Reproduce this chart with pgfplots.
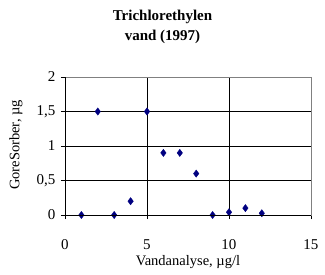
\documentclass[border=0pt]{standalone}
\usepackage{fontspec}
\setmainfont{Liberation Serif}
\usepackage{pgfplots}
\pgfplotsset{compat=1.18}
\definecolor{navy}{RGB}{0,0,128}
\definecolor{frame}{RGB}{128,128,128}
\begin{document}
\begin{tikzpicture}[x=1pt,y=1pt]
\useasboundingbox (-65,-59) rectangle (260,215);
\begin{axis}[
  at={(0,0)}, anchor=origin,
  scale only axis,
  width=246pt, height=138pt,
  xmin=0, xmax=15, ymin=0, ymax=2,
  xtick={0,5,10,15},
  ytick={0,0.5,1,1.5,2},
  yticklabels={0,{0,5},1,{1,5},2},
  /pgf/number format/assume math mode=true,
  tick label style={font=\fontsize{15}{17}\selectfont},
  xticklabel style={anchor=base, yshift=-30pt},
  yticklabel style={xshift=-2pt},
  grid=major,
  major grid style={black, line width=0.8pt},
  axis line style={frame, line width=0.8pt},
  tick style={black, line width=0.8pt},
  tick align=outside,
  major tick length=4pt,
  xtick pos=bottom, ytick pos=left,
  clip=false,
  xlabel={Vandanalyse, µg/l},
  ylabel={GoreSorber, µg},
  label style={font=\fontsize{14.5}{17}\selectfont},
  xlabel style={at={(axis description cs:0.5,0)}, anchor=base, yshift=-50pt},
  ylabel style={at={(axis description cs:0,0.5)}, anchor=center, rotate=0, xshift=1pt, yshift=49pt},
  extra description/.code={
    \draw[black, line width=0.8pt] (rel axis cs:0,1) -- (rel axis cs:0,0) -- (rel axis cs:1,0);
  },
]
\addplot[only marks, mark=diamond*, mark size=3.6pt, color=navy]
coordinates {
(1,0) (2,1.5) (3,0) (4,0.2) (5,1.5) (6,0.9) (7,0.9) (8,0.6) (9,0) (10,0.04) (11,0.1) (12,0.025)
};
\end{axis}
\node[font=\bfseries\fontsize{15}{20.5}\selectfont, align=center, anchor=north] at (97.5,208.5) {Trichlorethylen\\vand (1997)};
\end{tikzpicture}
\end{document}
